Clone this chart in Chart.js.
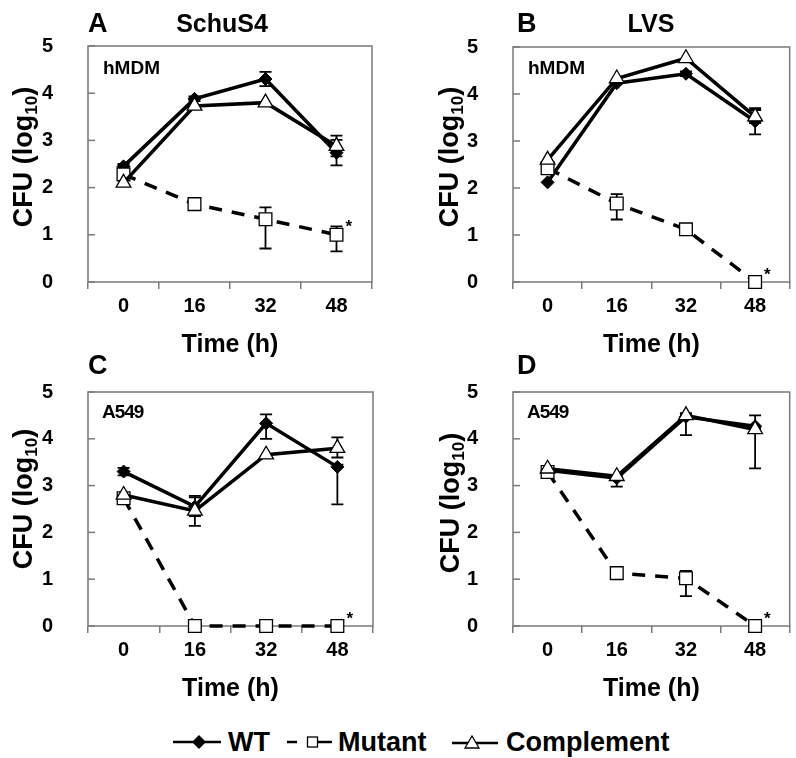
<!DOCTYPE html>
<html><head><meta charset="utf-8">
<script src="https://cdn.jsdelivr.net/npm/chart.js@4.4.1/dist/chart.umd.min.js"></script>
<style>
html,body{margin:0;padding:0;background:#fff;overflow:hidden;width:796px;height:758px;}
body{position:relative;font-family:"Liberation Sans",Arial,sans-serif;font-weight:bold;color:#000;}
canvas{position:absolute;}
.t{position:absolute;white-space:nowrap;font-weight:bold;line-height:1;}
.c{transform:translate(-50%,-50%);}
.l{transform:translateY(-50%);}
.ylab{position:absolute;white-space:nowrap;font-size:27px;line-height:1;transform:translate(-50%,-50%) rotate(-90deg);}
.ylab sub{font-size:17px;vertical-align:-5px;line-height:1;}
svg{position:absolute;}
</style></head><body>

<canvas id="cA" width="400" height="360" style="left:0;top:0"></canvas>
<canvas id="cB" width="400" height="360" style="left:400px;top:0"></canvas>
<canvas id="cC" width="400" height="384" style="left:0;top:320px"></canvas>
<canvas id="cD" width="400" height="384" style="left:400px;top:320px"></canvas>

<div class="t l" style="left:88px;top:23px;font-size:27px">A</div>
<div class="t c" style="left:222px;top:23px;font-size:25px">SchuS4</div>
<div class="t l" style="left:517px;top:23px;font-size:27px">B</div>
<div class="t c" style="left:651px;top:23px;font-size:25px">LVS</div>
<div class="t l" style="left:88px;top:365px;font-size:27px">C</div>
<div class="t l" style="left:517px;top:365px;font-size:27px">D</div>

<div class="t l" style="left:103px;top:67px;font-size:19px">hMDM</div>
<div class="t l" style="left:528px;top:67px;font-size:19px">hMDM</div>
<div class="t l" style="left:102px;top:411px;font-size:19px;letter-spacing:-1px">A549</div>
<div class="t l" style="left:527px;top:411px;font-size:19px;letter-spacing:-1px">A549</div>

<div class="ylab" style="left:25px;top:157px">CFU (log<sub>10</sub>)</div>
<div class="ylab" style="left:451px;top:157px">CFU (log<sub>10</sub>)</div>
<div class="ylab" style="left:25px;top:499px">CFU (log<sub>10</sub>)</div>
<div class="ylab" style="left:452px;top:503px">CFU (log<sub>10</sub>)</div>

<!-- legend -->
<svg width="50" height="20" style="left:173px;top:732px">
  <line x1="0" y1="10" x2="48" y2="10" stroke="#000" stroke-width="2.5"/>
  <polygon points="26,3 33,10 26,17 19,10" fill="#000"/>
</svg>
<div class="t l" style="left:228px;top:742px;font-size:27px">WT</div>
<svg width="50" height="20" style="left:287px;top:732px">
  <line x1="0" y1="10" x2="10" y2="10" stroke="#000" stroke-width="2.5"/>
  <line x1="31" y1="10" x2="45" y2="10" stroke="#000" stroke-width="2.5"/>
  <rect x="20.5" y="5" width="10" height="10" fill="#fff" stroke="#000" stroke-width="1.3"/>
</svg>
<div class="t l" style="left:338px;top:742px;font-size:27px">Mutant</div>
<svg width="50" height="20" style="left:452px;top:732px">
  <line x1="0" y1="11" x2="46" y2="11" stroke="#000" stroke-width="2.5"/>
  <polygon points="20,4 27,16 13,16" fill="#fff" stroke="#000" stroke-width="1.3"/>
</svg>
<div class="t l" style="left:506px;top:742px;font-size:27px">Complement</div>

<script>
// ---------- data ----------
const timeLabels = ['0', '16', '32', '48'];
const yTicks = [0, 1, 2, 3, 4, 5];

// Panel A: SchuS4, hMDM
const wtA = [2.45, 3.88, 4.30, 2.74];
const wtAUp = [0.05, 0.05, 0.15, 0.27];
const wtADn = [0.05, 0.05, 0.15, 0.27];
const mutA = [2.28, 1.65, 1.33, 1.00];
const mutAUp = [0, 0, 0.25, 0.18];
const mutADn = [0, 0, 0.62, 0.35];
const compA = [2.10, 3.73, 3.80, 2.88];
const compAUp = [0, 0, 0, 0.22];
const compADn = [0, 0, 0, 0.22];

// Panel B: LVS, hMDM
const wtB = [2.12, 4.23, 4.43, 3.42];
const wtBUp = [0, 0, 0.05, 0.28];
const wtBDn = [0, 0, 0.05, 0.28];
const mutB = [2.42, 1.67, 1.12, 0];
const mutBUp = [0, 0.20, 0, 0];
const mutBDn = [0, 0.34, 0, 0];
const compB = [2.60, 4.33, 4.76, 3.52];
const compBUp = [0, 0, 0, 0.14];
const compBDn = [0, 0, 0, 0.14];

// Panel C: SchuS4, A549
const wtC = [3.30, 2.55, 4.33, 3.40];
const wtCUp = [0.08, 0.20, 0.19, 0.05];
const wtCDn = [0.08, 0.20, 0.33, 0.80];
const mutC = [2.73, 0, 0, 0];
const mutCUp = [0, 0, 0, 0];
const mutCDn = [0, 0, 0, 0];
const compC = [2.80, 2.46, 3.66, 3.80];
const compCUp = [0, 0.32, 0, 0.23];
const compCDn = [0, 0.32, 0, 0.20];

// Panel D: LVS, A549
const wtD = [3.33, 3.16, 4.47, 4.27];
const wtDUp = [0, 0.05, 0.05, 0.23];
const wtDDn = [0, 0.18, 0.05, 0.05];
const mutD = [3.29, 1.13, 1.02, 0];
const mutDUp = [0, 0, 0.16, 0];
const mutDDn = [0, 0, 0.38, 0];
const compD = [3.36, 3.20, 4.50, 4.20];
const compDUp = [0, 0, 0.05, 0.05];
const compDDn = [0, 0, 0.42, 0.83];

// ---------- plugins ----------
const framePlugin = {
  id: 'frame',
  beforeDatasetsDraw(chart) {
    const {ctx, chartArea: a, scales: {y}} = chart;
    ctx.save();
    ctx.strokeStyle = '#7a7a7a';
    ctx.lineWidth = 1.5;
    ctx.strokeRect(a.left, a.top, a.right - a.left, a.bottom - a.top);
    y.ticks.forEach(t => {
      const py = y.getPixelForValue(t.value);
      ctx.beginPath(); ctx.moveTo(a.left, py); ctx.lineTo(a.left + 7, py); ctx.stroke();
    });
    // error bars
    ctx.strokeStyle = '#000';
    ctx.lineWidth = 1.8;
    chart.data.datasets.forEach((ds, i) => {
      const meta = chart.getDatasetMeta(i);
      ds.data.forEach((v, j) => {
        const up = ds.errUp[j], dn = ds.errDn[j];
        if (!up && !dn) return;
        const px = meta.data[j].x;
        const yt = y.getPixelForValue(v + up), yb = y.getPixelForValue(v - dn);
        ctx.beginPath();
        ctx.moveTo(px, yt); ctx.lineTo(px, yb);
        if (up) { ctx.moveTo(px - 6, yt); ctx.lineTo(px + 6, yt); }
        if (dn) { ctx.moveTo(px - 6, yb); ctx.lineTo(px + 6, yb); }
        ctx.stroke();
      });
    });
    ctx.restore();
  },
  afterDatasetsDraw(chart) {
    const {ctx} = chart;
    chart.data.datasets.forEach((ds, i) => {
      if (!ds.star) return;
      const meta = chart.getDatasetMeta(i);
      const p = meta.data[meta.data.length - 1];
      ctx.save();
      ctx.fillStyle = '#000';
      ctx.font = 'bold 17px "Liberation Sans", Arial, sans-serif';
      ctx.textAlign = 'left';
      ctx.textBaseline = 'middle';
      ctx.fillText('*', p.x + 9, p.y - 7);
      ctx.restore();
    });
  }
};

function makePanel(id, wt, wtUp, wtDn, mut, mutUp, mutDn, comp, compUp, compDn, pad) {
  new Chart(document.getElementById(id), {
    type: 'line',
    data: {
      labels: timeLabels,
      datasets: [
        {label: 'WT', data: wt, errUp: wtUp, errDn: wtDn, order: 2,
         borderColor: '#000', borderWidth: 3.5, pointStyle: 'rectRot', pointRadius: 6.5,
         pointBackgroundColor: '#000', pointBorderColor: '#000', pointBorderWidth: 1, clip: false},
        {label: 'Mutant', data: mut, errUp: mutUp, errDn: mutDn, order: 1, star: true,
         borderColor: '#000', borderWidth: 3.5, borderDash: [13, 10], pointStyle: 'rect', pointRadius: 9,
         pointBackgroundColor: '#fff', pointBorderColor: '#000', pointBorderWidth: 1.3, clip: false},
        {label: 'Complement', data: comp, errUp: compUp, errDn: compDn, order: 0,
         borderColor: '#000', borderWidth: 3.5, pointStyle: 'triangle', pointRadius: 8.5,
         pointBackgroundColor: '#fff', pointBorderColor: '#000', pointBorderWidth: 1.3, clip: false}
      ]
    },
    options: {
      responsive: false,
      animation: false,
      devicePixelRatio: 1,
      layout: {padding: pad},
      plugins: {legend: {display: false}, tooltip: {enabled: false}},
      elements: {line: {tension: 0}},
      scales: {
        x: {
          type: 'category',
          offset: true,
          border: {display: false},
          grid: {display: true, offset: true, drawOnChartArea: false, drawTicks: true,
                 tickLength: 7, color: '#7a7a7a', lineWidth: 1.5},
          ticks: {color: '#000', padding: 5, font: {size: 20, weight: 'bold', family: '"Liberation Sans", Arial'}},
          title: {display: true, text: 'Time (h)', color: '#000', padding: 0,
                  font: {size: 25, weight: 'bold', family: '"Liberation Sans", Arial'}},
          afterFit: s => { s.height = 78; }
        },
        y: {
          min: 0, max: 5,
          afterBuildTicks: s => { s.ticks = yTicks.map(v => ({value: v})); },
          border: {display: false},
          grid: {display: false},
          ticks: {color: '#000', padding: 27, font: {size: 20, weight: 'bold', family: '"Liberation Sans", Arial'}},
          afterFit: s => { s.width = 48; }
        }
      }
    },
    plugins: [framePlugin]
  });
}

makePanel('cA', wtA, wtAUp, wtADn, mutA, mutAUp, mutADn, compA, compAUp, compADn, {left: 40, top: 46, right: 28, bottom: 0});
makePanel('cB', wtB, wtBUp, wtBDn, mutB, mutBUp, mutBDn, compB, compBUp, compBDn, {left: 65, top: 47, right: 2, bottom: 0});
makePanel('cC', wtC, wtCUp, wtCDn, mutC, mutCUp, mutCDn, compC, compCUp, compCDn, {left: 40, top: 72, right: 27, bottom: 0});
makePanel('cD', wtD, wtDUp, wtDDn, mutD, mutDUp, mutDDn, compD, compDUp, compDDn, {left: 65, top: 72, right: 2, bottom: 0});
</script>
</body></html>
